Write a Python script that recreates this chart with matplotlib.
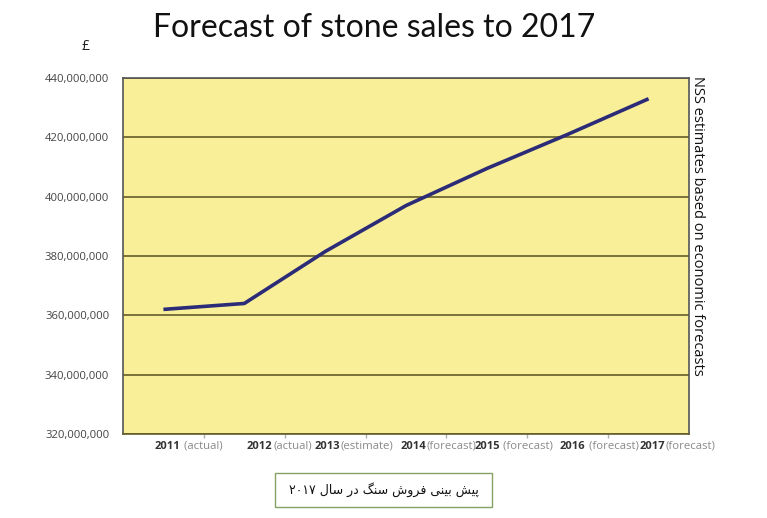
import matplotlib
matplotlib.use("Agg")
import matplotlib.pyplot as plt
import numpy as np
from matplotlib.ticker import FuncFormatter, MultipleLocator
from matplotlib.patches import Rectangle

# ---- data ----
years = ["2011", "2012", "2013", "2014", "2015", "2016", "2017"]
status = [" (actual)", "(actual)", "(estimate)", "(forecast)", " (forecast)", " (forecast)", "(forecast)"]
sales = [362e6, 364e6, 381.5e6, 397e6, 409.5e6, 421e6, 433e6]
title = "Forecast of stone sales to 2017"
currency = "£"
side_note = "NSS estimates based on economic forecasts"
# Persian caption (visual order, presentation forms): پیش بینی فروش سنگ در سال ۲۰۱۷
caption = ("\u06f2\u06f0\u06f1\u06f7 \ufedd\ufe8e\ufeb3 \ufead\ufea9 \ufb93\ufee8\ufeb3 "
           "\ufeb5\ufeed\ufeae\ufed3 \ufbfd\ufee8\ufbff\ufe91 \ufeb6\ufbff\ufb58")

# layout: label anchor (junction of year/status) in category units
label_anchor = [0.21, 1.35, 2.18, 3.25, 4.16, 5.22, 6.21]

W, H = 767, 518
fig = plt.figure(figsize=(W / 100, H / 100), dpi=100)
fig.patch.set_facecolor("white")
ax = fig.add_axes([123 / W, (H - 434) / H, 566 / W, 356 / H])
ax.set_facecolor("#f8ef98")

x = np.arange(len(years))
ax.plot(x, sales, color="#2b2b78", lw=2.6, solid_capstyle="butt", zorder=3)

ax.set_xlim(-0.5, len(years) - 0.5)
ax.set_ylim(320e6, 440e6)
ax.yaxis.set_major_locator(MultipleLocator(20e6))
ax.yaxis.set_major_formatter(FuncFormatter(lambda v, p: f"{v:,.0f}"))
ax.grid(axis="y", color="#625d28", lw=1.2, zorder=1)
ax.tick_params(axis="y", length=0, pad=10, labelsize=8.1, labelcolor="#444444")
for lab in ax.get_yticklabels():
    lab.set_family("Open Sans")

ax.set_xticks(x[:-1] + 0.5)
ax.set_xticklabels([])
ax.tick_params(axis="x", length=3, color="#b0b0b0", width=1)

for s in ["left", "top", "right"]:
    ax.spines[s].set_color("#555555")
    ax.spines[s].set_linewidth(1.2)
ax.spines["bottom"].set_color("#625d28")
ax.spines["bottom"].set_linewidth(1.2)

for a, yr, st in zip(label_anchor, years, status):
    ax.annotate(yr, xy=(a, 0), xycoords=("data", "axes fraction"), xytext=(0, -9),
                textcoords="offset points", ha="right", va="center",
                fontsize=8.0, fontweight="bold", color="#333333", family="Open Sans")
    ax.annotate(st, xy=(a, 0), xycoords=("data", "axes fraction"), xytext=(0.3, -9),
                textcoords="offset points", ha="left", va="center",
                fontsize=8.2, color="#8a8a8a", family="Open Sans")

fig.text(374 / W, 1 - 28 / H, title, ha="center", va="center", fontsize=23,
         family="Lato", color="#111111")
fig.text(86 / W, 1 - 47 / H, currency, ha="center", va="center", fontsize=10,
         family="Open Sans", color="#222222")
fig.text(697 / W, 1 - 226 / H, side_note, ha="center", va="center", rotation=-90,
         fontsize=10.5, family="Open Sans", color="#111111")

fig.patches.append(Rectangle((275 / W, 1 - 507 / H), 217 / W, 34 / H,
                             transform=fig.transFigure, facecolor="white",
                             edgecolor="#86a262", lw=1.0))
fig.text(384 / W, 1 - 490 / H, caption, ha="center", va="center", fontsize=9,
         family="DejaVu Sans", color="#111111")

fig.savefig("out.png", dpi=100)
